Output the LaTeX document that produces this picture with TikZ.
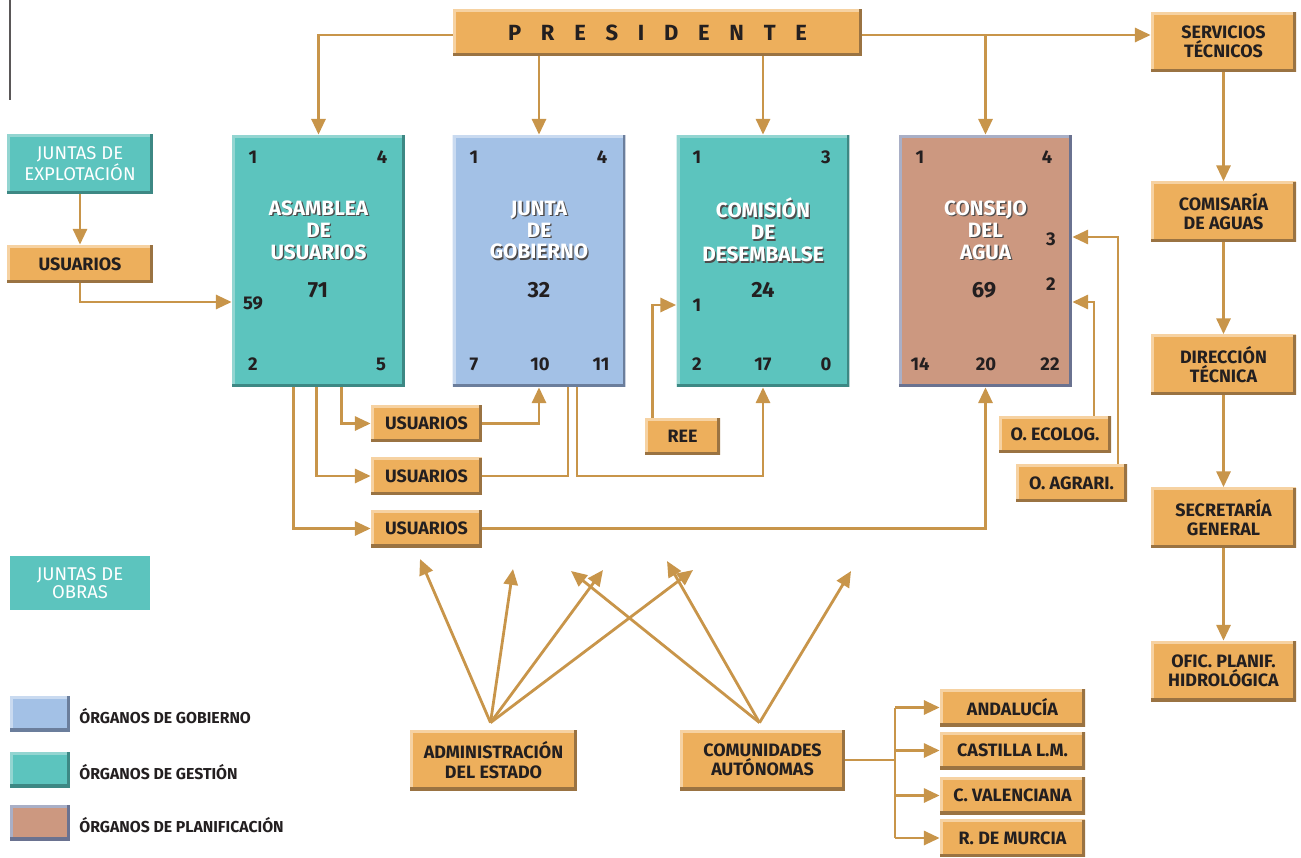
\documentclass[tikz,border=0pt]{standalone}
\usepackage{fontspec}
\setmainfont{Fira Sans}
\usetikzlibrary{arrows.meta,calc}

\definecolor{boxorange}{HTML}{EDAF5C}
\definecolor{boxteal}{HTML}{5CC4BE}
\definecolor{boxblue}{HTML}{A3C1E6}
\definecolor{boxbrown}{HTML}{CC9880}
\definecolor{linetan}{HTML}{C8954A}
\definecolor{inkdark}{HTML}{231F20}
\definecolor{orlight}{HTML}{F6D2A2}
\definecolor{ordark}{HTML}{9A7342}
\definecolor{tllight}{HTML}{93D5D1}
\definecolor{tldark}{HTML}{3D8884}
\definecolor{bllight}{HTML}{C9DAF0}
\definecolor{bldark}{HTML}{6B7E9C}
\definecolor{brlight}{HTML}{A9AFC6}
\definecolor{brdark}{HTML}{6A7290}

\tikzset{
  bevel/.style 2 args={path picture={
      \draw[#1, line width=3.4pt] (path picture bounding box.south west) |- (path picture bounding box.north east);
      \draw[#2, line width=3.4pt] (path picture bounding box.south west) -| (path picture bounding box.north east);}},
  obox/.style={fill=boxorange, bevel={orlight}{ordark}, text=inkdark, align=center,
    inner sep=0pt, font=\bfseries\fontsize{10.2}{11}\selectfont},
  tbox/.style={fill=boxteal, text=white, align=center, inner sep=0pt,
    font=\fontsize{10.5}{10.5}\selectfont},
  organ/.style={minimum width=3.46cm, minimum height=5.04cm, inner sep=0pt},
  titletext/.style={text=white, align=center, font=\bfseries\fontsize{11.8}{12.5}\selectfont},
  titleshade/.style={text=inkdark!80, align=center, font=\bfseries\fontsize{11.8}{12.5}\selectfont},
  num/.style={text=inkdark, inner sep=0pt, font=\bfseries\fontsize{10.5}{12}\selectfont},
  bignum/.style={text=inkdark, inner sep=0pt, font=\bfseries\fontsize{12.5}{14}\selectfont},
  legtext/.style={text=inkdark, anchor=west, inner sep=0pt, font=\bfseries\fontsize{9}{10}\selectfont},
  conn/.style={draw=linetan, line width=1.6pt, -{Triangle[length=9pt,width=8pt]}},
  wire/.style={draw=linetan, line width=1.6pt},
}

\newcommand{\organtitle}[3]{%
  \node[titleshade] (#2s) at ([shift={(1.3,1.3)}]#1.center) [yshift=0.62cm] {#3};
  \node[titletext] (#2) at (#1.center) [yshift=0.62cm] {#3};}

\begin{document}
\begin{tikzpicture}[x=0.02cm, y=-0.02cm]
  \useasboundingbox (0,0) rectangle (1301,858);

  % margin rule
  \draw[inkdark!75, line width=0.8pt] (10,0) -- (10,100);

  % President
  \node[obox, minimum width=8.18cm, minimum height=0.94cm, font=\bfseries\fontsize{12.5}{14}\selectfont]
    (pres) at (657.5,32.5) {P\hspace{0.9em}R\hspace{0.9em}E\hspace{0.9em}S\hspace{0.9em}I\hspace{0.9em}D\hspace{0.9em}E\hspace{0.9em}N\hspace{0.9em}T\hspace{0.9em}E};

  % Organs
  \node[organ, fill=boxteal, bevel={tllight}{tldark}] (asam) at (318.5,261) {};
  \node[organ, fill=boxblue, bevel={bllight}{bldark}] (junta) at (539,261) {};
  \node[organ, fill=boxteal, bevel={tllight}{tldark}] (comis) at (763,261) {};
  \node[organ, fill=boxbrown, bevel={brlight}{brdark}] (consejo) at (985.5,261) {};

  \organtitle{asam}{asamT}{ASAMBLEA\\DE\\USUARIOS}
  \organtitle{junta}{juntaT}{JUNTA\\DE\\GOBIERNO}
  \organtitle{comis}{comisT}{COMISIÓN\\DE\\DESEMBALSE}
  \organtitle{consejo}{consejoT}{CONSEJO\\DEL\\AGUA}

  % Seats
  \foreach \nm/\px/\py/\val in {a1/253/157/1, a4/382/157/4, a59/253/303/59, a2/253/364/2, a5/381/364/5,
      j1/474/157/1, j4/602/157/4, j7/474/364/7, j10/540/364/10, j11/601/364/11,
      c1/697/157/1, c3/826/157/3, cr/697/305/1, c2/697/364/2, c17/763/364/17, c0/826/364/0,
      k1/920/157/1, k4/1047/157/4, k3/1051/239/3, k2/1051/284/2, k14/920/364/14, k20/986/364/20, k22/1050/364/22}
    \node[num] (n\nm) at (\px,\py) {\val};
  \node[bignum] (tasam) at (318,290) {71};
  \node[bignum] (tjunta) at (539,290) {32};
  \node[bignum] (tcomis) at (763,290) {24};
  \node[bignum] (tconsejo) at (984,290) {69};

  % Technical column
  \node[obox, minimum width=2.9cm, minimum height=1.2cm] (serv) at (1223.5,42) {SERVICIOS\\TÉCNICOS};
  \node[obox, minimum width=2.9cm, minimum height=1.2cm] (comisaria) at (1223.5,211.5) {COMISARÍA\\DE AGUAS};
  \node[obox, minimum width=2.9cm, minimum height=1.2cm] (direc) at (1223.5,364.5) {DIRECCIÓN\\TÉCNICA};
  \node[obox, minimum width=2.9cm, minimum height=1.2cm] (secre) at (1223.5,517.5) {SECRETARÍA\\GENERAL};
  \node[obox, minimum width=2.9cm, minimum height=1.2cm] (ofic) at (1223.5,671) {OFIC. PLANIF.\\HIDROLÓGICA};

  % Left side
  \node[tbox, bevel={tllight}{tldark}, minimum width=2.92cm, minimum height=1.2cm] (jexp) at (80,164) {JUNTAS DE\\EXPLOTACIÓN};
  \node[obox, minimum width=2.92cm, minimum height=0.76cm] (usu0) at (80,264) {USUARIOS};
  \node[tbox, minimum width=2.8cm, minimum height=1.08cm] (jobras) at (80,583) {JUNTAS DE\\OBRAS};

  % Users and others
  \node[obox, minimum width=2.22cm, minimum height=0.74cm] (usu1) at (426.5,423.5) {USUARIOS};
  \node[obox, minimum width=2.22cm, minimum height=0.74cm] (usu2) at (426.5,476) {USUARIOS};
  \node[obox, minimum width=2.22cm, minimum height=0.74cm] (usu3) at (426.5,528.5) {USUARIOS};
  \node[obox, minimum width=1.5cm, minimum height=0.74cm] (ree) at (682.5,436.5) {REE};
  \node[obox, minimum width=2.24cm, minimum height=0.74cm] (ecolog) at (1055,434.5) {O. ECOLOG.};
  \node[obox, minimum width=2.22cm, minimum height=0.76cm] (agrari) at (1071.5,483) {O. AGRARI.};

  % Administrations
  \node[obox, minimum width=3.34cm, minimum height=1.2cm] (admin) at (493.5,760) {ADMINISTRACIÓN\\DEL ESTADO};
  \node[obox, minimum width=3.3cm, minimum height=1.2cm] (comun) at (762.5,760) {COMUNIDADES\\AUTÓNOMAS};
  \node[obox, minimum width=2.9cm, minimum height=0.74cm] (reg1) at (1012.5,707.5) {ANDALUCÍA};
  \node[obox, minimum width=2.9cm, minimum height=0.74cm] (reg2) at (1012.5,750.5) {CASTILLA L.M.};
  \node[obox, minimum width=2.9cm, minimum height=0.74cm] (reg3) at (1012.5,795.5) {C. VALENCIANA};
  \node[obox, minimum width=2.9cm, minimum height=0.74cm] (reg4) at (1012.5,838) {R. DE MURCIA};

  % Legend
  \node[fill=boxblue, bevel={bllight}{bldark}, minimum width=1.2cm, minimum height=0.7cm] (lg1) at (40,713.5) {};
  \node[fill=boxteal, bevel={tllight}{tldark}, minimum width=1.2cm, minimum height=0.7cm] (lg2) at (40,769.5) {};
  \node[fill=boxbrown, bevel={brlight}{brdark}, minimum width=1.2cm, minimum height=0.7cm] (lg3) at (40,822.5) {};
  \node[legtext] (lt1) at (79,716) {ÓRGANOS DE GOBIERNO};
  \node[legtext] (lt2) at (79,772) {ÓRGANOS DE GESTIÓN};
  \node[legtext] (lt3) at (79,825) {ÓRGANOS DE PLANIFICACIÓN};

  % President links
  \draw[conn] ([shift={(0,2.5)}]pres.west) -| (asam.north);
  \draw[conn] (pres.south -| junta.north) -- (junta.north);
  \draw[conn] (pres.south -| comis.north) -- (comis.north);
  \draw[conn] ([shift={(0,2.5)}]pres.east) -- ([shift={(0,2.5)}]pres.east -| serv.west);
  \draw[conn] ([shift={(0,2.5)}]pres.east -| consejo.north) -- (consejo.north);

  % Technical chain
  \draw[conn] (serv) -- (comisaria);
  \draw[conn] (comisaria) -- (direc);
  \draw[conn] (direc) -- (secre);
  \draw[conn] (secre) -- (ofic);

  % Left links
  \draw[conn] (jexp) -- (usu0);
  \draw[conn] (usu0.south) |- ([shift={(0,41)}]asam.west);

  % Users links
  \draw[conn] ([shift={(23,0)}]asam.south) |- (usu1.west);
  \draw[conn] ([shift={(-2,0)}]asam.south) |- (usu2.west);
  \draw[conn] ([shift={(-25,0)}]asam.south) |- (usu3.west);
  \draw[conn] (usu1.east) -| (junta.south);
  \draw[wire] (usu2.east) -| ([shift={(29,0)}]junta.south);
  \draw[conn] ([shift={(38,0)}]junta.south) |- (usu2.east -| comis.south) -- (comis.south);
  \draw[conn] (usu3.east) -| (consejo.south);
  \draw[conn] ([shift={(-30,0)}]ree.north) |- ([shift={(0,44)}]comis.west);
  \draw[conn] ([shift={(39,0)}]ecolog.north) |- ([shift={(0,41)}]consejo.east);
  \draw[conn] ([shift={(46.5,0)}]agrari.north) |- ([shift={(0,-24)}]consejo.east);

  % Fan arrows
  \coordinate (adtop) at ([shift={(-3,-7)}]admin.north);
  \coordinate (cotop) at ([shift={(-3,-7)}]comun.north);
  \coordinate (ad1) at (420,559);
  \coordinate (ad2) at (513,569);
  \coordinate (ad3) at (603,570);
  \coordinate (ad4) at (693,570);
  \coordinate (co1) at (571,571);
  \coordinate (co2) at (667,561);
  \coordinate (co3) at (851,571);
  \foreach \t in {ad1,ad2,ad3,ad4}
    \draw[conn] (adtop) -- (\t);
  \foreach \t in {co1,co2,co3}
    \draw[conn] (cotop) -- (\t);

  % Regions
  \coordinate (split) at (comun.east -| 895,0);
  \draw[wire] (comun.east) -- (split);
  \draw[wire] (split |- reg1.west) -- (split |- reg4.west);
  \foreach \r in {reg1,reg2,reg3,reg4}
    \draw[conn] (split |- \r.west) -- (\r.west);
\end{tikzpicture}
\end{document}
